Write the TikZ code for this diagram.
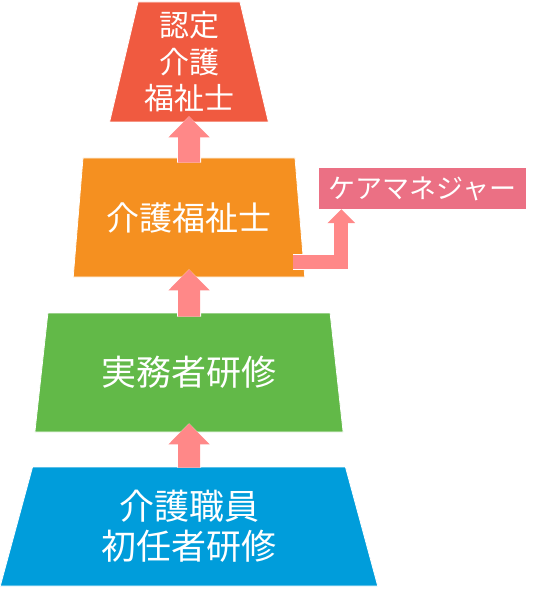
\documentclass[tikz,border=0pt]{standalone}
\usepackage{fontspec}
\setmainfont{Noto Sans CJK JP}
\usepackage{tikz}
\usetikzlibrary{shapes.geometric, arrows.meta, positioning}
\definecolor{kaired}{RGB}{240,90,64}
\definecolor{kaiorange}{RGB}{245,144,32}
\definecolor{kaigreen}{RGB}{98,185,72}
\definecolor{kaiblue}{RGB}{0,157,219}
\definecolor{kaipink}{RGB}{255,136,136}
\definecolor{kairose}{RGB}{235,112,132}
\tikzset{
  %% ---- boxes ----
  stage/.style  = {trapezium, trapezium angle=76, trapezium stretches=true,
                   draw=white, line width=0.8pt, fill=#1, text=white,
                   minimum height=119pt, inner sep=0pt, align=center},
  rolebox/.style = {rectangle, fill=kairose, text=white, inner sep=0pt,
                   minimum width=207pt, minimum height=41pt,
                   font=\fontsize{27}{30}\selectfont},
  %% ---- arrows ----
  uparrow/.style = {draw=kaipink, line width=22pt,
                   -{Triangle[width=40pt,length=21pt]},
                   preaction={draw=white, line width=24pt,
                              -{Triangle[width=43pt,length=22pt]}}},
  sidearrow/.style = {draw=kaipink, line width=14pt, line join=miter,
                   -{Triangle[width=27pt,length=14pt]},
                   preaction={draw=white, line width=16pt, line join=miter,
                              -{Triangle[width=30pt,length=15pt]}}},
}

\begin{document}
\begin{tikzpicture}[x=1pt, y=-1pt]
  \useasboundingbox (0,0) rectangle (540,593);

  %% Pyramid of stages
  \node[stage=kaired, minimum width=159pt, minimum height=120pt,
    font=\fontsize{30}{36.5}\selectfont]
    (kaigo3) at (189,62) {認定\\介護\\福祉士};
  \node[stage=kaiorange, minimum width=232pt,
    font=\fontsize{33}{38}\selectfont]
    (kaigo2) at (189,217.5) {介護福祉士};
  \node[stage=kaigreen, minimum width=309pt,
    font=\fontsize{35}{40}\selectfont]
    (jitsumu) at (189,372.5) {実務者研修};
  \node[stage=kaiblue, minimum width=378pt,
    font=\fontsize{35}{40}\selectfont]
    (shonin) at (189,526.5) {介護職員\\初任者研修};

  %% Side career
  \node[rolebox] (caremgr) at (422.5,188.5) {ケアマネジャー};

  %% Arrows
  \draw[uparrow] ([yshift=-5pt]kaigo2.north) -- ([yshift=6pt]kaigo3.south);
  \draw[uparrow] ([yshift=-4pt]jitsumu.north) -- ([yshift=8pt]kaigo2.south);
  \draw[uparrow] ([yshift=-1pt]shonin.north) -- ([yshift=9pt]jitsumu.south);

  \coordinate (cmfoot) at (293,262);
  \draw[sidearrow] (cmfoot) -| ([xshift=22.5pt]caremgr.south west);

\end{tikzpicture}
\end{document}
